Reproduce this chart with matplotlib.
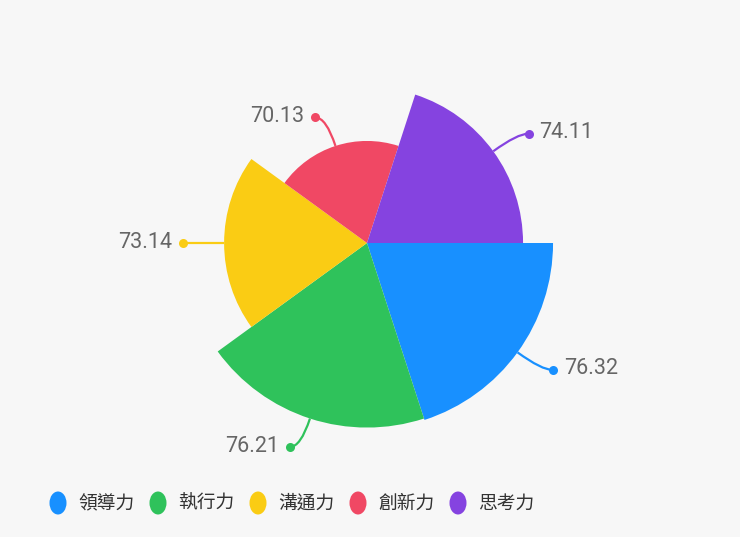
import numpy as np
import matplotlib
matplotlib.use('Agg')
import matplotlib.pyplot as plt
from matplotlib.path import Path
from matplotlib.patches import PathPatch, Ellipse

# data
categories = ['領導力', '執行力', '溝通力', '創新力', '思考力']
values = [76.32, 76.21, 73.14, 70.13, 74.11]
colors = ['#1890FF', '#2FC25B', '#FACC14', '#F04864', '#8543E0']

W, H = 740, 537
bg = '#F7F7F7'

fig = plt.figure(figsize=(W / 100, H / 100), dpi=100, facecolor=bg)

# polar axes, centre at (367, 243) px from top-left
cx, cy = 367, 243
R = 200
ax = fig.add_axes([(cx - R) / W, (H - cy - R) / H, 2 * R / W, 2 * R / H], projection='polar')
ax.set_facecolor('none')
ax.set_theta_zero_location('E')
ax.set_theta_direction(-1)

# radius scale: value v -> (v - v0) * k pixels
k = 13.57
v0 = 62.61

n = len(values)
step = 2 * np.pi / n
theta = np.arange(n) * step + step / 2
ax.bar(theta, np.array(values) - v0, width=step, bottom=v0, color=colors,
       edgecolor='none', linewidth=0, align='center')

ax.set_rorigin(v0)
ax.set_ylim(v0, v0 + R / k)
ax.axis('off')

# overlay in pixel coords for label lines, text and legend
ov = fig.add_axes([0, 0, 1, 1], facecolor='none')
ov.set_xlim(0, W)
ov.set_ylim(H, 0)
ov.axis('off')

fig.canvas.draw()
to_ov = ov.transData.inverted()

L1, L2 = 30, 11
for t, v, c in zip(theta, values, colors):
    sx, sy = to_ov.transform(ax.transData.transform((t, v)))
    ux, uy = np.cos(t), np.sin(t)  # clockwise from east, y down in overlay
    mx, my = sx + ux * L1, sy + uy * L1
    side = 1 if ux > 1e-6 else -1
    ex, ey = mx + side * L2, my
    path = Path([(sx, sy), (mx, my), (ex, ey)], [Path.MOVETO, Path.CURVE3, Path.CURVE3])
    ov.add_patch(PathPatch(path, facecolor='none', edgecolor=c, lw=1.6))
    ov.plot(ex, ey, 'o', color=c, markersize=6.5, markeredgewidth=0)
    ov.text(ex + side * 11, ey - 1, f'{v:.2f}', ha='left' if side > 0 else 'right',
            va='center', fontsize=15.5, color='#666666', family=['Roboto', 'DejaVu Sans'])

# legend
for i, (name, c) in enumerate(zip(categories, colors)):
    x0 = 58 + 100 * i
    ov.add_patch(Ellipse((x0, 503), 17, 23, facecolor=c, edgecolor='none'))
    ov.text(x0 + 20, 503, name, ha='left', va='center', fontsize=13.5, color='#333333',
            family=['Noto Sans CJK TC', 'DejaVu Sans'])

fig.savefig('out.png', dpi=100, facecolor=bg)
